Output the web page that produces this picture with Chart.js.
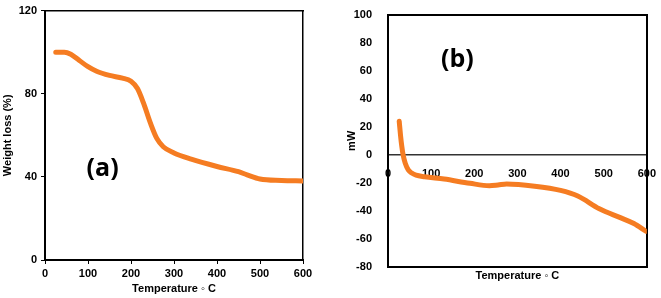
<!DOCTYPE html>
<html lang="en">
<head>
    <meta charset="UTF-8">
    <title>TGA / DSC</title>
    <script src="https://cdn.jsdelivr.net/npm/chart.js@4.4.0/dist/chart.umd.min.js"></script>
    <style>
        body { margin: 0; background: #fff; }
        .panel { position: absolute; top: 0; height: 298px; }
    </style>
</head>
<body>
<!-- (a) TGA -->
<div class="panel" style="left:0; width:330px"><canvas id="tgaCanvas" width="330" height="298"></canvas></div>
<!-- (b) DSC -->
<div class="panel" style="left:330px; width:331px"><canvas id="dscCanvas" width="331" height="298"></canvas></div>

<script>
    // TGA curve
    const tgaTemp   = [25, 45, 60, 80, 100, 120, 150, 180, 200, 215, 230, 245, 260, 275, 300, 340, 400, 450, 470, 500, 550, 600];
    const tgaWeight = [100, 100, 99, 96, 93, 90.8, 88.8, 87.5, 86, 82.5, 75, 66, 58.5, 54.5, 51.5, 48.5, 45, 42.5, 41, 39, 38.3, 38];

    // DSC curve
    const dscTemp = [26, 29, 32, 35, 40, 47, 55, 65, 85, 130, 190, 235, 255, 275, 340, 400, 440, 490, 540, 570, 598];
    const dscMw   = [24, 14, 6, 0, -6, -10.7, -13, -14.5, -15.6, -17.3, -20.3, -22, -21.5, -20.8, -22.4, -25.4, -29.4, -38.5, -45, -49, -54.5];

    const tempTicks = [0, 100, 200, 300, 400, 500, 600];
    const tgaTicks = [0, 40, 80, 120];
    const dscTicks = [-80, -60, -40, -20, 0, 20, 40, 60, 80, 100];

    const ORANGE = '#F57C22';
    Chart.defaults.font.family = '"Liberation Sans", Arial, sans-serif';
    Chart.defaults.color = '#000';
    const tickFont = { size: 11, weight: 'bold' };

    // draws the "(a)" / "(b)" tag at a data position
    const panelLabel = {
        id: 'panelLabel',
        afterDatasetsDraw(chart, args, opts) {
            const c = chart.ctx;
            const x = chart.scales.x.getPixelForValue(opts.at[0]);
            const y = chart.scales.y.getPixelForValue(opts.at[1]);
            c.save();
            c.font = 'bold 25px "Open Sans", sans-serif';
            c.fillStyle = '#000';
            c.textAlign = 'center';
            c.textBaseline = 'middle';
            c.fillText(opts.text, x, y);
            c.restore();
        }
    };

    function frameAxis(pos, w) {
        return {
            position: pos,
            display: true,
            ticks: { display: false },
            grid: { display: false },
            border: { color: '#000', width: w },
            afterFit(s) { if (pos === 'top') s.height = 0; else s.width = 0; }
        };
    }

    // ---- (a)
    new Chart(document.getElementById('tgaCanvas'), {
        type: 'line',
        data: {
            datasets: [{
                data: tgaTemp.map((t, i) => ({ x: t, y: tgaWeight[i] })),
                borderColor: ORANGE,
                borderWidth: 5,
                borderCapStyle: 'round',
                pointRadius: 0,
                cubicInterpolationMode: 'monotone'
            }]
        },
        options: {
            responsive: false,
            animation: false,
            layout: { padding: { top: 8, right: 27, left: 0, bottom: 0 } },
            plugins: {
                legend: { display: false },
                tooltip: { enabled: false },
                panelLabel: { text: '(a)', at: [134, 44] }
            },
            scales: {
                x: {
                    type: 'linear', min: 0, max: 600,
                    afterBuildTicks(s) { s.ticks = tempTicks.map(v => ({ value: v })); },
                    ticks: { font: tickFont, padding: 3, maxRotation: 0 },
                    grid: { drawOnChartArea: false, color: '#000', tickLength: 4 },
                    border: { color: '#000', width: 2 },
                    title: { display: true, text: 'Temperature \u25E6 C', font: tickFont, padding: { top: 0, bottom: 2 } },
                    afterFit(s) { s.height = 38; }
                },
                y: {
                    min: 0, max: 120,
                    afterBuildTicks(s) { s.ticks = tgaTicks.map(v => ({ value: v })); },
                    ticks: { font: tickFont, padding: 4 },
                    grid: { drawOnChartArea: false, color: '#000', tickLength: 4 },
                    border: { color: '#000', width: 2 },
                    title: { display: true, text: 'Weight loss (%)', font: tickFont, padding: { top: 1, bottom: 0 } },
                    afterFit(s) { s.width = 45; }
                },
                xTop: frameAxis('top', 1.5),
                yRight: frameAxis('right', 1.5)
            }
        },
        plugins: [panelLabel]
    });

    // ---- (b)
    new Chart(document.getElementById('dscCanvas'), {
        type: 'line',
        data: {
            datasets: [{
                data: dscTemp.map((t, i) => ({ x: t, y: dscMw[i] })),
                borderColor: ORANGE,
                borderWidth: 5,
                borderCapStyle: 'round',
                pointRadius: 0,
                cubicInterpolationMode: 'monotone'
            }]
        },
        options: {
            responsive: false,
            animation: false,
            layout: { padding: { top: 11, right: 12, left: 0, bottom: 0 } },
            plugins: {
                legend: { display: false },
                tooltip: { enabled: false },
                panelLabel: { text: '(b)', at: [161, 68] }
            },
            scales: {
                x: {
                    type: 'linear', min: 0, max: 600,
                    position: { y: 0 },
                    afterBuildTicks(s) { s.ticks = tempTicks.map(v => ({ value: v })); },
                    ticks: { font: tickFont, padding: 5, maxRotation: 0 },
                    grid: { display: false },
                    border: { color: '#333', width: 1.5 }
                },
                xBottom: {
                    type: 'linear', position: 'bottom', min: 0, max: 600,
                    ticks: { display: false },
                    grid: { display: false },
                    border: { color: '#000', width: 2 },
                    title: { display: true, text: 'Temperature \u25E6 C', font: tickFont, padding: { top: 0, bottom: 15 } },
                    afterFit(s) { s.height = 31; }
                },
                y: {
                    min: -80, max: 100,
                    afterBuildTicks(s) { s.ticks = dscTicks.map(v => ({ value: v })); },
                    ticks: { font: tickFont, padding: 8 },
                    grid: { display: false },
                    border: { color: '#000', width: 2 },
                    title: { display: true, text: 'mW', font: tickFont, padding: { top: 15, bottom: 0 } },
                    afterFit(s) { s.width = 58; }
                },
                xTop: frameAxis('top', 2),
                yRight: frameAxis('right', 2)
            }
        },
        plugins: [panelLabel]
    });
</script>
</body>
</html>
